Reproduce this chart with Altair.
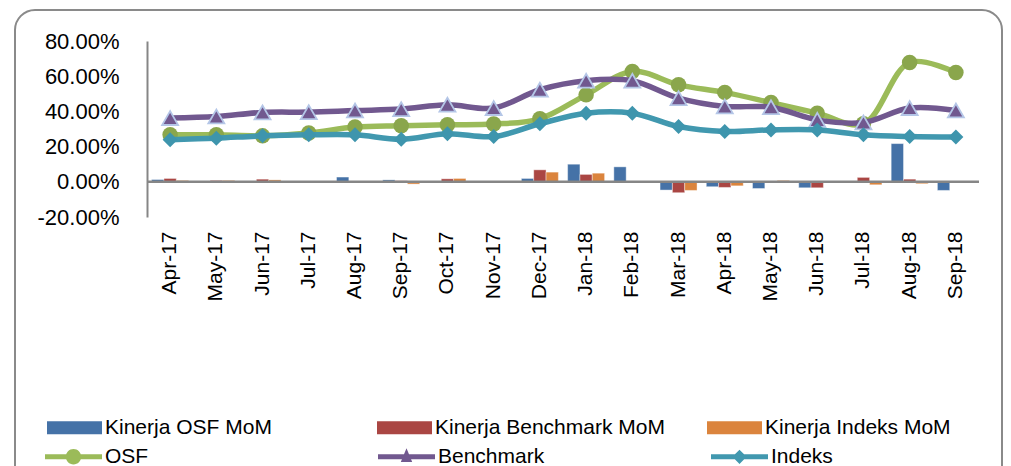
import altair as alt
import pandas as pd

months = ["Apr-17", "May-17", "Jun-17", "Jul-17", "Aug-17", "Sep-17", "Oct-17", "Nov-17",
          "Dec-17", "Jan-18", "Feb-18", "Mar-18", "Apr-18", "May-18", "Jun-18", "Jul-18",
          "Aug-18", "Sep-18"]

osf = [26.7, 26.7, 26.1, 27.7, 31.1, 31.8, 32.4, 32.8, 35.8, 49.4, 62.7, 55.1, 50.8, 45.0,
       39.0, 33.0, 67.8, 62.1]
benchmark = [36.2, 37.1, 39.4, 39.6, 40.5, 41.3, 43.8, 41.9, 52.3, 57.4, 57.4, 47.5, 42.8,
             42.4, 35.2, 33.7, 41.9, 40.5]
indeks = [23.9, 24.8, 26.1, 26.7, 26.7, 24.2, 27.3, 25.7, 33.0, 39.0, 39.0, 31.4, 28.6, 29.5,
          29.5, 26.7, 25.7, 25.4]

osf_mom = [1.3, 0.0, 0.0, 0.0, 2.7, 1.1, 0.0, 0.0, 1.9, 10.0, 8.5, -4.7, -2.8, -3.8, -3.4,
           0.0, 21.7, -4.9]
bench_mom = [1.9, 0.8, 1.5, 0.0, 0.1, 0.6, 1.7, -0.4, 6.8, 4.2, 0.0, -6.2, -3.2, 0.0, -3.4,
             2.5, 1.5, 0.0]
indeks_mom = [0.8, 0.8, 1.1, 0.0, 0.0, -1.3, 1.9, -0.4, 5.5, 4.9, 0.0, -4.9, -2.3, 0.8, 0.0,
              -1.7, -1.1, 0.0]

bar_names = ["Kinerja OSF MoM", "Kinerja Benchmark MoM", "Kinerja Indeks MoM"]
bar_colors = ["#4572A7", "#AA4643", "#DB843D"]
line_names = ["OSF", "Benchmark", "Indeks"]
line_colors = ["#9BBB59", "#71588F", "#4198AF"]
marker_colors = ["#8AA64C", "#71588F", "#3E95AD"]
y_ticks = [-20, 0, 20, 40, 60, 80]

FONT = "Liberation Sans"

bars_df = pd.DataFrame({
    "month": months * 3,
    "series": [bar_names[0]] * 18 + [bar_names[1]] * 18 + [bar_names[2]] * 18,
    "value": osf_mom + bench_mom + indeks_mom,
})

lines_df = pd.DataFrame({
    "month": months * 3,
    "series": [line_names[0]] * 18 + [line_names[1]] * 18 + [line_names[2]] * 18,
    "value": osf + benchmark + indeks,
})

x_scale = alt.Scale(domain=months, paddingInner=0.2, paddingOuter=0.1)
y_scale = alt.Scale(domain=[-20, 80], nice=False)

x_axis = alt.Axis(labelAngle=-90, labelFontSize=21, labelFont=FONT, labelColor="#000000",
                  labelPadding=14, ticks=False, domain=False, grid=False, title=None)
y_axis = alt.Axis(values=y_ticks,
                  labelExpr="(datum.value < 0 ? '-' : '') + format(abs(datum.value), '.2f') + '%'",
                  labelFontSize=22, labelFont=FONT, labelColor="#000000", labelPadding=28,
                  ticks=False, grid=False, domainColor="#868686", domainWidth=2, title=None)


def X():
    return alt.X("month:N", sort=months, scale=x_scale, axis=x_axis, title=None)


def Y(field="value:Q"):
    return alt.Y(field, scale=y_scale, axis=y_axis, title=None)


frame = alt.Chart(pd.DataFrame({"a": [0]})).mark_rect(
    fill="transparent", stroke="#8a8a8a", strokeWidth=2, cornerRadius=20
).encode(x=alt.value(-132), x2=alt.value(855), y=alt.value(-31), y2=alt.value(475))

bars = alt.Chart(bars_df).mark_bar(stroke="#ffffff", strokeOpacity=0.5, strokeWidth=0.8).encode(
    x=X(),
    xOffset=alt.XOffset("series:N", sort=bar_names,
                        scale=alt.Scale(domain=bar_names, paddingInner=0, paddingOuter=0)),
    y=Y(),
    color=alt.Color("series:N", sort=bar_names,
                    scale=alt.Scale(domain=bar_names, range=bar_colors),
                    legend=alt.Legend(orient="none", legendX=-100, legendY=359,
                                      direction="horizontal", columns=3, gridAlign="all",
                                      columnPadding=42, padding=0, title=None,
                                      symbolType="M-1,-0.24H1V0.24H-1Z", symbolSize=3025,
                                      symbolStrokeWidth=0, labelFontSize=21, labelFont=FONT,
                                      labelColor="#000000", labelOffset=3, labelLimit=400)),
)

zero = alt.Chart(pd.DataFrame({"value": [0]})).mark_rule(color="#868686", strokeWidth=2.5).encode(
    y=Y()
)

layers = [frame, bars, zero]

shapes = ["circle", "triangle-up", "diamond"]
sizes = [240, 256, 225]
strokes = [None, "#B4C6E7", None]
for i, name in enumerate(line_names):
    sub = lines_df[lines_df["series"] == name]
    line = alt.Chart(sub).mark_line(interpolate="catmull-rom", color=line_colors[i],
                                    strokeWidth=5.5).encode(x=X(), y=Y())
    pt_kwargs = dict(filled=True, shape=shapes[i], size=sizes[i], fill=marker_colors[i],
                     opacity=1)
    if strokes[i]:
        pt_kwargs.update(stroke=strokes[i], strokeWidth=1.8)
    else:
        pt_kwargs.update(strokeWidth=0)
    pts = alt.Chart(sub).mark_point(**pt_kwargs).encode(x=X(), y=Y())
    layers += [line, pts]

legend_paths = [
    "M-1,-0.09H1V0.09H-1Z M0.27,0A0.27,0.27,0,1,1,-0.27,0A0.27,0.27,0,1,1,0.27,0Z",
    "M-1,-0.09H1V0.09H-1Z M0,-0.3L0.2,0.18L-0.2,0.18Z",
    "M-1,-0.09H1V0.09H-1Z M0,-0.25L0.25,0L0,0.25L-0.25,0Z",
]
line_legend = alt.Legend(orient="none", legendX=-102, legendY=387, direction="horizontal",
                         columns=3, gridAlign="all", columnPadding=166, padding=0, title=None,
                         symbolSize=3249, symbolStrokeWidth=0, symbolOpacity=1,
                         labelFontSize=21, labelFont=FONT, labelColor="#000000",
                         labelOffset=3, labelLimit=400)
legend_layer = alt.Chart(lines_df).mark_point(filled=True, opacity=0).encode(
    x=X(), y=Y(),
    fill=alt.Fill("series:N", sort=line_names,
                  scale=alt.Scale(domain=line_names, range=line_colors), legend=line_legend),
    shape=alt.Shape("series:N", sort=line_names,
                    scale=alt.Scale(domain=line_names, range=legend_paths), legend=line_legend),
)
layers.append(legend_layer)

chart = alt.layer(*layers).properties(
    width=832, height=176,
    autosize=alt.AutoSizeParams(type="none"),
    padding={"left": 139, "top": 33, "right": 24, "bottom": 249},
).configure(
    font=FONT, background="#ffffff",
    view=alt.ViewConfig(strokeWidth=0, stroke="transparent"),
)

chart.save("out.html", embed_options={"renderer": "svg", "actions": False})
